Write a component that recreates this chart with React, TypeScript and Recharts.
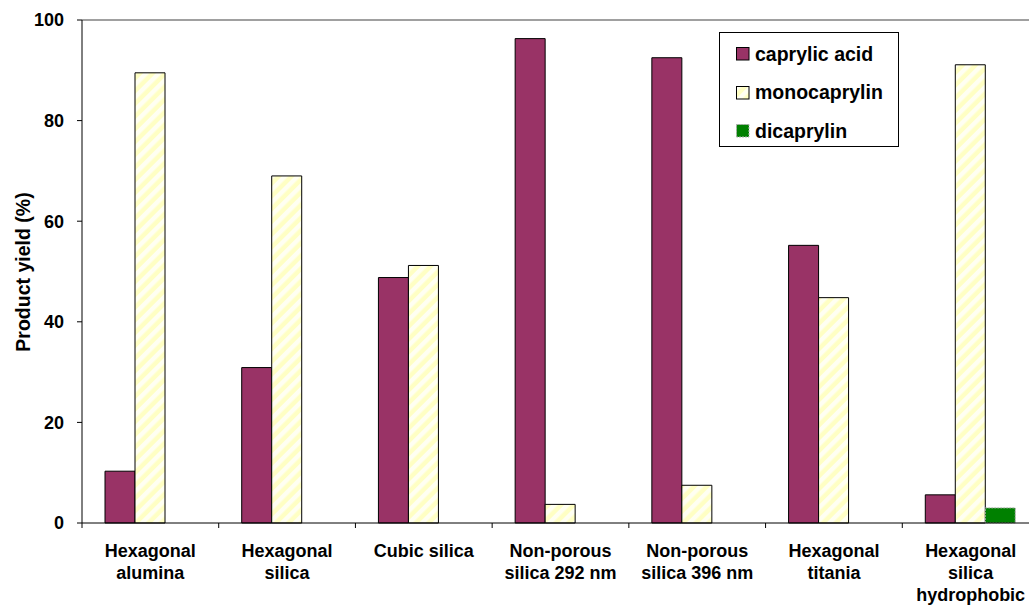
import { Bar, BarChart, Legend, ReferenceLine, XAxis, YAxis } from "recharts";

const categories = [
  "Hexagonal\nalumina",
  "Hexagonal\nsilica",
  "Cubic silica",
  "Non-porous\nsilica 292 nm",
  "Non-porous\nsilica 396 nm",
  "Hexagonal\ntitania",
  "Hexagonal\nsilica\nhydrophobic",
];
const caprylicAcid = [10.3, 30.9, 48.8, 96.3, 92.5, 55.2, 5.6];
const monocaprylin = [89.5, 69.0, 51.2, 3.7, 7.5, 44.8, 91.1];
const dicaprylin = [0, 0, 0, 0, 0, 0, 3.0];
const yTicks = [0, 20, 40, 60, 80, 100];

const data = categories.map((name, i) => ({
  name,
  caprylic: caprylicAcid[i],
  mono: monocaprylin[i],
  di: dicaprylin[i] || null,
}));

const FONT = "'Liberation Sans', Arial, sans-serif";
const CHART_W = 1050;
const CHART_H = 607;
const PLOT_LEFT = 82;
const PLOT_RIGHT_MARGIN = 11;
const BAND = (CHART_W - PLOT_LEFT - PLOT_RIGHT_MARGIN) / categories.length;

function CategoryTick(props: any) {
  const { x, y, payload } = props;
  const lines = String(payload.value).split("\n");
  const left = x - BAND / 2;
  return (
    <g>
      <line x1={left} y1={y} x2={left} y2={y + 5} stroke="#000" />
      <text x={x} y={y + 34} textAnchor="middle" fontFamily={FONT} fontWeight="bold" fontSize={18} fill="#000">
        {lines.map((l, i) => (
          <tspan key={i} x={x} dy={i === 0 ? 0 : 22}>
            {l}
          </tspan>
        ))}
      </text>
    </g>
  );
}

function LegendBox() {
  const rows = [
    { label: "caprylic acid", fill: "#993366", stroke: "#000", dash: undefined },
    { label: "monocaprylin", fill: "url(#monoStripes)", stroke: "#000", dash: undefined },
    { label: "dicaprylin", fill: "#008000", stroke: "#b0b0b0", dash: "2 1" },
  ];
  return (
    <div
      style={{
        width: 178,
        height: 113,
        border: "1px solid #000",
        background: "#fff",
        boxSizing: "content-box",
        fontFamily: FONT,
        fontWeight: "bold",
        fontSize: 19.5,
        color: "#000",
        position: "relative",
      }}
    >
      {rows.map((r, i) => (
        <div
          key={r.label}
          style={{ position: "absolute", left: 16, top: 9 + i * 38.5, height: 24, display: "flex", alignItems: "center" }}
        >
          <svg width={14} height={14} style={{ marginRight: 5 }}>
            <rect x={0.5} y={0.5} width={12.5} height={12.5} fill={r.fill} stroke={r.stroke} strokeDasharray={r.dash} />
          </svg>
          <span style={{ whiteSpace: "nowrap" }}>{r.label}</span>
        </div>
      ))}
    </div>
  );
}

export default function App() {
  return (
    <div style={{ position: "absolute", left: 0, top: 0, width: 1029, height: 607, overflow: "hidden", background: "#fff" }}>
      <BarChart
        width={CHART_W}
        height={CHART_H}
        data={data}
        margin={{ top: 20, right: PLOT_RIGHT_MARGIN, bottom: 0, left: 0 }}
        barCategoryGap={23}
        barGap={0}
      >
        <defs>
          <pattern id="monoStripes" width={9} height={9} patternUnits="userSpaceOnUse" patternTransform="rotate(45)">
            <rect x={0} y={0} width={9} height={9} fill="#FFFFC4" />
            <rect x={0} y={0} width={4.5} height={9} fill="#FFFFF2" />
          </pattern>
        </defs>
        <ReferenceLine y={100} stroke="#808080" strokeWidth={1.5} />
        <XAxis
          dataKey="name"
          interval={0}
          tickLine={false}
          tickSize={0}
          tickMargin={0}
          height={84}
          stroke="#000"
          tick={<CategoryTick />}
        />
        <YAxis
          domain={[0, 100]}
          ticks={yTicks}
          width={PLOT_LEFT}
          tickSize={5}
          tickMargin={13}
          stroke="#000"
          tick={{ fontFamily: FONT, fontWeight: "bold", fontSize: 18, fill: "#000" }}
          label={() => (
            <text
              transform="translate(23,272) rotate(-90)"
              textAnchor="middle"
              dominantBaseline="central"
              fontFamily={FONT}
              fontWeight="bold"
              fontSize={19.5}
              fill="#000"
            >
              Product yield (%)
            </text>
          )}
        />
        <Legend
          layout="vertical"
          align="center"
          verticalAlign="middle"
          content={() => <LegendBox />}
          wrapperStyle={{ position: "absolute", left: 719, top: 32, width: 180, height: 115 }}
        />
        <Bar dataKey="caprylic" name="caprylic acid" fill="#993366" stroke="#000" strokeWidth={1} isAnimationActive={false} />
        <Bar dataKey="mono" name="monocaprylin" fill="url(#monoStripes)" stroke="#000" strokeWidth={1} isAnimationActive={false} />
        <Bar
          dataKey="di"
          name="dicaprylin"
          fill="#008000"
          stroke="#b0b0b0"
          strokeDasharray="2 1"
          strokeWidth={1}
          isAnimationActive={false}
        />
      </BarChart>
    </div>
  );
}
